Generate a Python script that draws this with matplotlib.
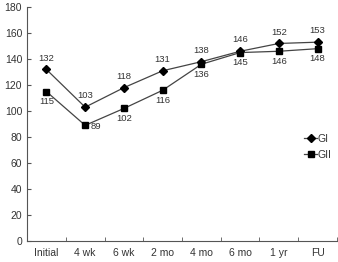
import matplotlib
matplotlib.use("Agg")
import matplotlib.pyplot as plt

categories = ["Initial", "4 wk", "6 wk", "2 mo", "4 mo", "6 mo", "1 yr", "FU"]
gi_values = [132, 103, 118, 131, 138, 146, 152, 153]
gii_values = [115, 89, 102, 116, 136, 145, 146, 148]
yticks = [0, 20, 40, 60, 80, 100, 120, 140, 160, 180]

plt.rcParams["font.family"] = ["Liberation Sans", "DejaVu Sans"]

fig = plt.figure(figsize=(3.38, 2.62), dpi=100)
ax = fig.add_axes([0.08, 0.08, 0.917, 0.893])

x = list(range(len(categories)))
ax.plot(x, gi_values, color="#444444", lw=0.9, marker="D", ms=4.2,
        mfc="black", mec="black", label="GI")
ax.plot(x, gii_values, color="#444444", lw=0.9, marker="s", ms=4.2,
        mfc="black", mec="black", label="GII")

fs = 6.8
tc = "#333333"
for i, (a, b) in enumerate(zip(gi_values, gii_values)):
    ax.annotate(str(a), (i, a), xytext=(0, 5), textcoords="offset points",
                ha="center", va="bottom", fontsize=fs, color=tc)
    if i == 1:
        ax.annotate(str(b), (i, b), xytext=(4, -1), textcoords="offset points",
                    ha="left", va="center", fontsize=fs, color=tc)
    else:
        ax.annotate(str(b), (i, b), xytext=(0, -4), textcoords="offset points",
                    ha="center", va="top", fontsize=fs, color=tc)

ax.set_xlim(-0.5, len(categories) - 0.5)
ax.set_ylim(0, 180)
ax.set_yticks(yticks)
ax.set_xticks(x)
ax.set_xticklabels(categories)
ax.set_xticks([i + 0.5 for i in x[:-1]] + [len(categories) - 0.5], minor=True)
ax.tick_params(axis="x", which="major", length=0, labelsize=7.5, pad=5,
               labelcolor=tc)
ax.tick_params(axis="x", which="minor", direction="in", length=3, color="#555555")
ax.tick_params(axis="y", direction="in", length=3, labelsize=7.5, color="#555555",
               labelcolor=tc)
for s in ["top", "right"]:
    ax.spines[s].set_visible(False)
for s in ["left", "bottom"]:
    ax.spines[s].set_color("#555555")
    ax.spines[s].set_linewidth(0.8)

leg = ax.legend(loc="upper right", bbox_to_anchor=(1.0, 0.48), frameon=False,
                fontsize=7.5, handlelength=1.2, handletextpad=0.1,
                labelspacing=0.55, borderpad=0)
for t in leg.get_texts():
    t.set_color(tc)

fig.savefig("out.png", dpi=100)
